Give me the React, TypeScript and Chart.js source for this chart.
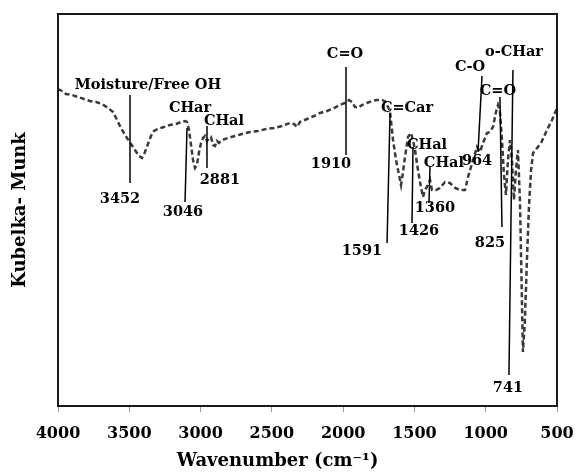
import React, { useEffect, useRef } from "react";
import { Chart, registerables } from "chart.js";

Chart.register(...registerables);

// Spectrum (wavenumber in cm-1, Kubelka-Munk in arbitrary units)
const wavenumbers = [
  4000, 3972, 3944, 3902, 3860, 3818, 3776, 3733, 3691, 3649, 3614, 3586, 3551, 3516, 3488, 3460,
  3432, 3411, 3390, 3369, 3348, 3327, 3299, 3257, 3214, 3172, 3137, 3109, 3095, 3081, 3067, 3053,
  3039, 3025, 3011, 2997, 2983, 2969, 2955, 2941, 2927, 2913, 2899, 2885, 2871, 2850, 2808, 2759,
  2709, 2653, 2597, 2541, 2485, 2429, 2373, 2345, 2324, 2303, 2253, 2204, 2162, 2113, 2064, 2022,
  1987, 1959, 1938, 1917, 1896, 1868, 1833, 1798, 1762, 1727, 1699, 1671, 1650, 1629, 1615, 1594,
  1580, 1566, 1545, 1524, 1510, 1496, 1475, 1461, 1440, 1426, 1405, 1391, 1377, 1349, 1321, 1286,
  1251, 1215, 1180, 1145, 1124, 1089, 1061, 1040, 1019, 991, 970, 949, 928, 914, 900, 886,
  872, 858, 844, 830, 816, 802, 788, 774, 760, 746, 739, 725, 711, 696, 682, 668,
  640, 612, 570, 535, 500,
];
const kmValues = [
  3.17, 3.15, 3.12, 3.11, 3.09, 3.07, 3.05, 3.04, 3.02, 2.98, 2.94, 2.86, 2.76, 2.68, 2.62, 2.56,
  2.5, 2.48, 2.54, 2.62, 2.7, 2.75, 2.77, 2.79, 2.81, 2.82, 2.84, 2.85, 2.84, 2.76, 2.61, 2.46,
  2.38, 2.41, 2.54, 2.63, 2.68, 2.7, 2.65, 2.68, 2.69, 2.61, 2.6, 2.65, 2.63, 2.66, 2.68, 2.7,
  2.72, 2.74, 2.75, 2.77, 2.78, 2.8, 2.83, 2.82, 2.79, 2.84, 2.87, 2.9, 2.93, 2.95, 2.98, 3.01,
  3.03, 3.06, 3.04, 2.99, 2.98, 3.01, 3.03, 3.05, 3.06, 3.06, 3.04, 2.94, 2.66, 2.46, 2.36, 2.21,
  2.34, 2.49, 2.69, 2.73, 2.66, 2.56, 2.36, 2.24, 2.09, 2.16, 2.21, 2.26, 2.16, 2.16, 2.18, 2.24,
  2.23, 2.18, 2.16, 2.16, 2.29, 2.46, 2.59, 2.54, 2.63, 2.73, 2.74, 2.79, 2.94, 3.01, 2.94, 2.66,
  2.31, 2.11, 2.46, 2.66, 2.46, 2.06, 2.36, 2.56, 2.06, 1.06, 0.54, 0.86, 1.46, 2.01, 2.36, 2.53,
  2.58, 2.63, 2.76, 2.86, 2.98,
];

const xMin = 500;
const xMax = 4000;
const xStep = 500;
const yMin = 0;
const yMax = 3.92;

const xTitle = "Wavenumber (cm\u207B\u00B9)";
const yTitle = "Kubelka- Munk";

// Peak assignments: group label, leader line (two ends) and wavenumber label, in data units
const groupLabels = ["Moisture/Free OH", "CHar", "CHal", "C=O", "C=Car", "CHal", "CHal", "C-O", "C=O", "o-CHar"];
const groupAt = [[3369, 3.21], [3074, 2.98], [2836, 2.85], [1987, 3.52], [1552, 2.98], [1412, 2.61], [1293, 2.43], [1110, 3.39], [914, 3.15], [802, 3.54]];
const lineTop = [[3495, 3.11], [3095, 2.78], [2955, 2.8], [1980, 3.39], [1671, 2.93], [1510, 2.59], [1391, 2.39], [1026, 3.3], [900, 3.09], [809, 3.36]];
const lineBottom = [[3495, 2.23], [3109, 2.04], [2955, 2.38], [1980, 2.51], [1692, 1.63], [1517, 1.83], [1398, 2.03], [1054, 2.54], [886, 1.79], [837, 0.31]];
const peakLabels = ["3452", "3046", "2881", "1910", "1591", "1426", "1360", "964", "825", "741"];
const peakAt = [[3565, 2.07], [3123, 1.94], [2864, 2.26], [2085, 2.42], [1868, 1.55], [1468, 1.75], [1356, 1.98], [1061, 2.45], [970, 1.63], [844, 0.18]];

const FONT = "'DejaVu Serif', serif";

const decorPlugin = {
  id: "decor",
  afterDatasetsDraw(chart: any) {
    const { ctx, chartArea, scales } = chart;
    const xs = scales.x;
    const ys = scales.y;
    ctx.save();
    // annotations
    ctx.strokeStyle = "#000";
    ctx.lineWidth = 1.5;
    ctx.fillStyle = "#000";
    ctx.textAlign = "center";
    ctx.textBaseline = "middle";
    ctx.font = `bold 14.5px ${FONT}`;
    for (let i = 0; i < groupLabels.length; i++) {
      ctx.beginPath();
      ctx.moveTo(xs.getPixelForValue(lineTop[i][0]), ys.getPixelForValue(lineTop[i][1]));
      ctx.lineTo(xs.getPixelForValue(lineBottom[i][0]), ys.getPixelForValue(lineBottom[i][1]));
      ctx.stroke();
      ctx.fillText(groupLabels[i], xs.getPixelForValue(groupAt[i][0]), ys.getPixelForValue(groupAt[i][1]));
      ctx.fillText(peakLabels[i], xs.getPixelForValue(peakAt[i][0]), ys.getPixelForValue(peakAt[i][1]));
    }
    // frame
    ctx.lineWidth = 2;
    ctx.strokeStyle = "#1a1a1a";
    ctx.strokeRect(chartArea.left, chartArea.top, chartArea.right - chartArea.left, chartArea.bottom - chartArea.top);
    // axis titles
    ctx.font = `bold 18px ${FONT}`;
    ctx.fillStyle = "#000";
    ctx.fillText(xTitle, chart.width * 0.482, 461);
    ctx.translate(20, (chartArea.top + chartArea.bottom) / 2);
    ctx.rotate(-Math.PI / 2);
    ctx.fillText(yTitle, 0, 0);
    ctx.restore();
  },
};

export default function App() {
  const ref = useRef<HTMLCanvasElement | null>(null);
  useEffect(() => {
    if (!ref.current) return;
    const chart = new Chart(ref.current, {
      type: "line",
      data: {
        datasets: [
          {
            data: wavenumbers.map((w, i) => ({ x: w, y: kmValues[i] })),
            borderColor: "#3a3a3a",
            borderWidth: 2.5,
            borderDash: [5, 3],
            pointRadius: 0,
            tension: 0,
            fill: false,
          },
        ],
      },
      options: {
        animation: false,
        responsive: false,
        devicePixelRatio: 1,
        layout: { padding: { left: 0, right: 19, top: 14, bottom: 0 } },
        plugins: { legend: { display: false }, tooltip: { enabled: false }, title: { display: false } },
        scales: {
          x: {
            type: "linear",
            reverse: true,
            min: xMin,
            max: xMax,
            border: { display: false },
            grid: { drawOnChartArea: false, drawTicks: true, tickLength: 6, color: "#9a9a9a", lineWidth: 1 },
            ticks: {
              stepSize: xStep,
              autoSkip: false,
              maxRotation: 0,
              padding: 12,
              color: "#000",
              font: { family: FONT, size: 16, weight: "bold" },
              callback: (v: any) => String(v),
            },
            afterFit: (s: any) => {
              s.height = 67;
              s.paddingLeft = 0;
              s.paddingRight = 0;
            },
          },
          y: {
            type: "linear",
            min: yMin,
            max: yMax,
            border: { display: false },
            grid: { display: false },
            ticks: { display: false },
            afterFit: (s: any) => {
              s.width = 58;
              s.paddingTop = 0;
              s.paddingBottom = 0;
            },
          },
        },
      },
      plugins: [decorPlugin],
    });
    return () => chart.destroy();
  }, []);
  return (
    <div style={{ position: "fixed", left: 0, top: 0, width: 576, height: 473, background: "#fff" }}>
      <canvas ref={ref} width={576} height={473} />
    </div>
  );
}
